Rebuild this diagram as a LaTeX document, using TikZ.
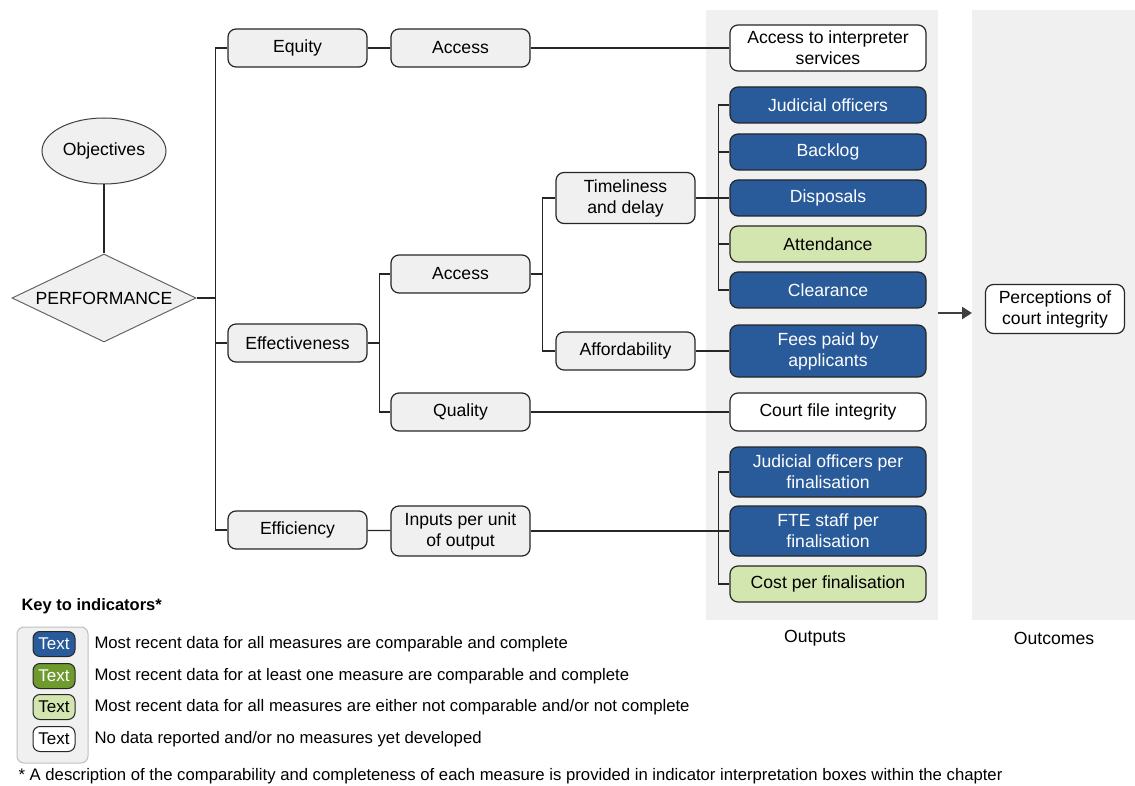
\documentclass[tikz,border=0pt]{standalone}
\usepackage{fontspec}
\setmainfont{Liberation Sans}
\usetikzlibrary{shapes.geometric,arrows.meta}

\definecolor{indblue}{HTML}{295B9B}
\definecolor{indgreen}{HTML}{6F9A2E}
\definecolor{indlight}{HTML}{D4E6B0}
\definecolor{boxgray}{HTML}{F0F0F0}

\begin{document}
\begin{tikzpicture}[x=1pt,y=-1pt,
    every node/.style={font=\fontsize{17.6}{21}\selectfont},
    conn/.style={draw=black!85,line width=1.2pt},
    box/.style={draw=black!85,line width=1.2pt,rounded corners=8pt,fill=boxgray,align=center,inner sep=2pt,minimum height=38pt},
    lvl/.style={box,minimum width=139pt},
    outbox/.style={box,minimum width=196pt,minimum height=36pt},
    fullbox/.style={outbox,fill=indblue,text=white},
    partbox/.style={outbox,fill=indlight},
    nobox/.style={outbox,fill=white},
    swatch/.style={draw=black!85,line width=1pt,rounded corners=7pt,minimum width=42pt,minimum height=25pt,inner sep=1pt,font=\fontsize{17}{19}\selectfont},
    keytext/.style={anchor=west,font=\fontsize{16.7}{19}\selectfont}]
        \useasboundingbox (0,0) rectangle (1135,786);
        \fill [boxgray] (706,10) rectangle (938,620);
        \fill [boxgray] (972,10) rectangle (1135,620);
        \node [draw=black!75,line width=1pt,fill=boxgray,ellipse,inner sep=0pt,minimum width=124pt,minimum height=66pt] (obj) at (104,151) {Objectives};
        \node [draw=black!60,line width=1pt,fill=boxgray,diamond,aspect=2.09,inner sep=0pt,minimum width=184pt,minimum height=88pt] (perf) at (104,298) {PERFORMANCE};
        \node [lvl] (equity) at (297.5,48) {Equity};
        \node [lvl] (effect) at (297.5,343) {Effectiveness};
        \node [lvl] (effic) at (297.5,530) {Efficiency};
        \node [lvl] (accA) at (460.5,48) {Access};
        \node [lvl] (accB) at (460.5,274) {Access};
        \node [lvl] (qual) at (460.5,412) {Quality};
        \node [lvl,minimum height=50pt] (inputs) at (460.5,531) {Inputs per unit\\of output};
        \node [lvl,minimum height=51pt] (timely) at (625.5,198) {Timeliness\\and delay};
        \node [lvl] (afford) at (625.5,351) {Affordability};
        \node [nobox,minimum height=46pt] (interp) at (828,48) {Access to interpreter\\services};
        \node [fullbox] (judic) at (828,105) {Judicial officers};
        \node [fullbox] (backlog) at (828,152) {Backlog};
        \node [fullbox] (dispos) at (828,198) {Disposals};
        \node [partbox] (attend) at (828,244) {Attendance};
        \node [fullbox] (clear) at (828,290) {Clearance};
        \node [fullbox,minimum height=52pt] (fees) at (828,351) {Fees paid by\\applicants};
        \node [nobox,minimum height=38pt] (courtfile) at (828,412) {Court file integrity};
        \node [fullbox,minimum height=50pt] (judfin) at (828,472) {Judicial officers per\\finalisation};
        \node [fullbox,minimum height=50pt] (ftefin) at (828,531) {FTE staff per\\finalisation};
        \node [partbox] (costfin) at (828,584) {Cost per finalisation};
        \node [box,fill=white,minimum width=139pt,minimum height=49pt] (percep) at (1055,309) {Perceptions of\\court integrity};
        \node (outputs) at (815,638) {Outputs};
        \node (outcomes) at (1054,638) {Outcomes};
        \coordinate (arrS) at (938,313);
        \coordinate (arrE) at (972,313);
        \draw [conn] (obj.south) -- (perf.north);
        \draw [conn] (perf.east) -- ++(19,0) |- (equity.west);
        \draw [conn] (perf.east) ++(19,0) |- (effect.west);
        \draw [conn] (perf.east) ++(19,0) |- (effic.west);
        \draw [conn] (equity) -- (accA);
        \draw [conn] (accA) -- (interp);
        \draw [conn] (effect.east) -- ++(12,0) |- (accB.west);
        \draw [conn] (effect.east) ++(12,0) |- (qual.west);
        \draw [conn] (effic) -- (inputs);
        \draw [conn] (accB.east) -- ++(12,0) |- (timely.west);
        \draw [conn] (accB.east) ++(12,0) |- (afford.west);
        \foreach \n in {judic,backlog,dispos,attend,clear}
            \draw [conn] (timely.east) -- ++(23,0) |- (\n.west);
        \draw [conn] (afford) -- (fees);
        \draw [conn] (qual) -- (courtfile);
        \foreach \n in {judfin,ftefin,costfin}
            \draw [conn] (inputs.east) -- ++(188,0) |- (\n.west);
        \draw [draw=black!75,line width=2.4pt,-{Triangle[length=10pt,width=12pt]}] (arrS) -- (arrE);
        \node [anchor=west,font=\bfseries\fontsize{16.5}{19}\selectfont] (keyttl) at (18,606) {Key to indicators*};
        \draw [draw=black!25,line width=1pt,fill=boxgray,rounded corners=7pt] (17,627) rectangle (88,763);
        \node [swatch,fill=indblue,text=white] (sw1) at (54,644) {Text};
        \node [swatch,fill=indgreen,text=white] (sw2) at (54,676) {Text};
        \node [swatch,fill=indlight] (sw3) at (54,707) {Text};
        \node [swatch,fill=white] (sw4) at (54,739) {Text};
        \node [keytext] (kt1) at (91,644) {Most recent data for all measures are comparable and complete};
        \node [keytext] (kt2) at (91,676) {Most recent data for at least one measure are comparable and complete};
        \node [keytext] (kt3) at (91,707) {Most recent data for all measures are either not comparable and/or not complete};
        \node [keytext] (kt4) at (91,739) {No data reported and/or no measures yet developed};
        \node [keytext] (fnote) at (15,776) {* A description of the comparability and completeness of each measure is provided in indicator interpretation boxes within the chapter};
\end{tikzpicture}
\end{document}
